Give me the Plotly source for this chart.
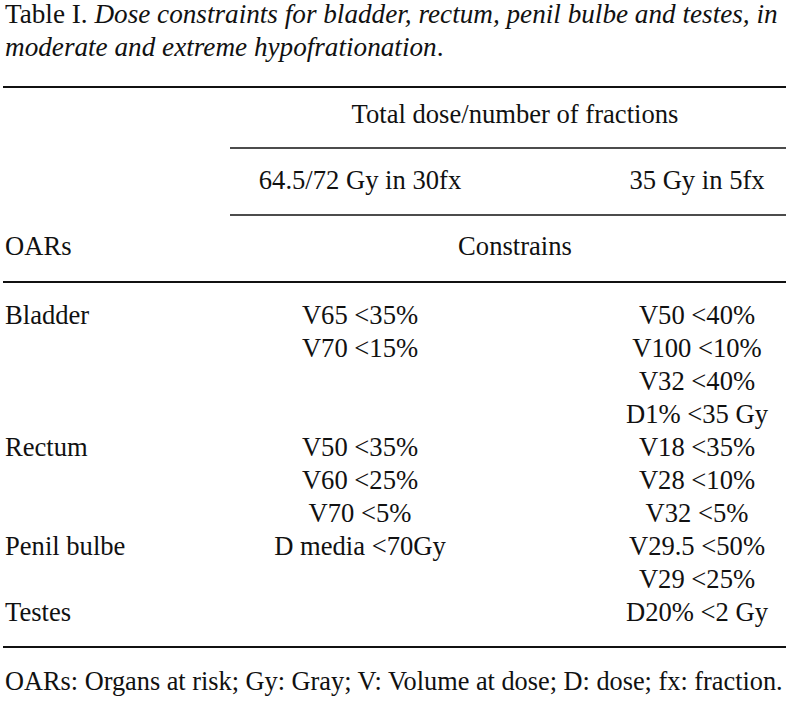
import plotly.graph_objects as go

# ---------------- data ----------------
title_plain = "Table I."
title_line1 = "Dose constraints for bladder, rectum, penil bulbe and testes, in"
title_line2 = "moderate and extreme hypofrationation"
group_header = "Total dose/number of fractions"
col_headers = ["64.5/72 Gy in 30fx", "35 Gy in 5fx"]
row_header = "OARs"
sub_header = "Constrains"
organs = ["Bladder", "Rectum", "Penil bulbe", "Testes"]
moderate = [["V65 <35%", "V70 <15%"],
            ["V50 <35%", "V60 <25%", "V70 <5%"],
            ["D media <70Gy"],
            []]
extreme = [["V50 <40%", "V100 <10%", "V32 <40%", "D1% <35 Gy"],
           ["V18 <35%", "V28 <10%", "V32 <5%"],
           ["V29.5 <50%", "V29 <25%"],
           ["D20% <2 Gy"]]
footnote = "OARs: Organs at risk; Gy: Gray; V: Volume at dose; D: dose; fx: fraction."

# ---------------- layout constants ----------------
W, H = 789, 715
FONT = "Liberation Serif, Times New Roman, serif"
FS = 26.6
FS_TITLE = 27.2
FS_FOOT = 26.3
X_LEFT = 5
X_C1 = 360
X_C2 = 697
X_GROUP = 515
Y_FIRST = 317
PITCH = 33
BLACK = "#111111"

# build body rows from data
lx, ly, lt = [], [], []
c1x, c1y, c1t = [], [], []
c2x, c2y, c2t = [], [], []
r = 0
for org, m, e in zip(organs, moderate, extreme):
    n = max(1, len(m), len(e))
    lx.append(X_LEFT); ly.append(Y_FIRST + PITCH * r); lt.append(org)
    for i, v in enumerate(m):
        c1x.append(X_C1); c1y.append(Y_FIRST + PITCH * (r + i)); c1t.append(v)
    for i, v in enumerate(e):
        c2x.append(X_C2); c2y.append(Y_FIRST + PITCH * (r + i)); c2t.append(v)
    r += n
last_row_y = Y_FIRST + PITCH * (r - 1)

fig = go.Figure()
font = dict(family=FONT, size=FS, color=BLACK)
tfont = dict(family=FONT, size=FS_TITLE, color=BLACK)
ffont = dict(family=FONT, size=FS_FOOT, color=BLACK)

# header cells
fig.add_trace(go.Scatter(x=[X_GROUP], y=[116], text=[group_header], mode="text",
                         textposition="middle center", textfont=font, hoverinfo="skip"))
fig.add_trace(go.Scatter(x=[X_C1, X_C2], y=[182, 182], text=col_headers, mode="text",
                         textposition="middle center", textfont=font, hoverinfo="skip"))
fig.add_trace(go.Scatter(x=[X_LEFT], y=[248], text=[row_header], mode="text",
                         textposition="middle right", textfont=font, hoverinfo="skip"))
fig.add_trace(go.Scatter(x=[X_GROUP], y=[248], text=[sub_header], mode="text",
                         textposition="middle center", textfont=font, hoverinfo="skip"))
# body cells
fig.add_trace(go.Scatter(x=lx, y=ly, text=lt, mode="text", textposition="middle right",
                         textfont=font, hoverinfo="skip"))
fig.add_trace(go.Scatter(x=c1x, y=c1y, text=c1t, mode="text", textposition="middle center",
                         textfont=font, hoverinfo="skip"))
fig.add_trace(go.Scatter(x=c2x, y=c2y, text=c2t, mode="text", textposition="middle center",
                         textfont=font, hoverinfo="skip"))
# title and footnote
fig.add_trace(go.Scatter(x=[X_LEFT, X_LEFT], y=[16, 49],
                         text=[f"{title_plain} <i>{title_line1}</i>", f"<i>{title_line2}</i>."],
                         mode="text", textposition="middle right", textfont=tfont, hoverinfo="skip"))
fig.add_trace(go.Scatter(x=[X_LEFT], y=[683], text=[footnote], mode="text",
                         textposition="middle right", textfont=ffont, hoverinfo="skip"))

# rules
rules = [(3, 786, 87, 2.2), (230, 786, 148, 1.6), (230, 786, 215, 1.6),
         (3, 786, 282, 2.2), (3, 786, last_row_y + 33, 2.2)]
for x0, x1, y, w in rules:
    fig.add_shape(type="line", x0=x0, x1=x1, y0=y, y1=y, xref="x", yref="y",
                  line=dict(color=BLACK, width=w))

fig.update_layout(width=W, height=H, margin=dict(l=0, r=0, t=0, b=0),
                  paper_bgcolor="white", plot_bgcolor="white", showlegend=False,
                  xaxis=dict(range=[0, W], visible=False, fixedrange=True),
                  yaxis=dict(range=[H, 0], visible=False, fixedrange=True))
fig.write_html("out.html", config={"displayModeBar": False},
               post_script="document.body.style.margin='0';document.body.style.overflow='hidden';")
